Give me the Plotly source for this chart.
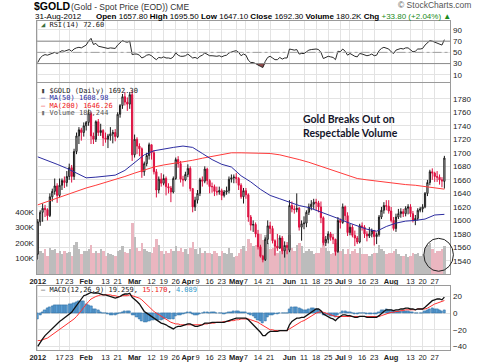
import plotly.graph_objects as go
import pandas as pd

W, H = 480, 363
def fx(p): return p / W
def fy(p): return 1 - p / H

# ---------------- data ----------------
holidays = ["2012-01-16", "2012-02-20", "2012-04-06", "2012-05-28", "2012-07-04"]
dates = [d.strftime("%Y-%m-%d") for d in pd.bdate_range("2012-01-03", "2012-08-31")
         if d.strftime("%Y-%m-%d") not in holidays]

opens = [1550,1598,1612,1618,1616,1607,1635,1643,1651,1637,1652,1659,1656,1665,1678,1665,1702,1725,1734,1730,
         1740,1745,1758,1725,1720,1746,1730,1733,1722,1720,1725,1728,1730,1724,1757,1770,1783,1775,1772,1786,
         1697,1720,1710,1706,1672,1684,1696,1712,1700,1672,1645,1661,1655,1662,1650,1648,1642,1662,1690,1684,1661,1660,
         1668,1677,1647,1620,1630,1640,1660,1658,1676,1659,1650,1650,1643,1642,1644,1637,1642,1644,1661,1663,
         1664,1662,1652,1635,1644,1638,1605,1593,1594,1580,1561,1547,1542,1572,1592,1588,1570,1562,1559,1574,1555,1563,
         1556,1622,1617,1616,1618,1590,1595,1596,1612,1620,1624,1627,1626,1620,1604,1567,1572,1580,1575,1572,1554,
         1600,1597,1620,1607,1582,1590,1578,1574,1568,1592,1590,1580,1577,1580,1585,1576,1579,1605,1615,1622,1621,
         1614,1600,1588,1605,1610,1613,1610,1618,1620,1610,1600,1603,1615,1617,1620,1640,1656,1672,1670,1665,1664,1660,1657.8]
highs = [1602,1615,1625,1623,1618,1640,1647,1662,1655,1662,1662,1665,1673,1684,1682,1706,1730,1738,1737,1745,
         1747,1764,1761,1730,1748,1750,1743,1735,1730,1728,1738,1734,1735,1760,1772,1787,1790,1782,1790,1792,
         1727,1723,1714,1708,1687,1700,1715,1712,1704,1676,1665,1670,1668,1665,1655,1651,1665,1693,1695,1688,1666,1672,
         1683,1680,1648,1635,1645,1663,1665,1680,1678,1661,1656,1653,1650,1650,1647,1645,1650,1665,1668,1668,
         1670,1664,1655,1648,1648,1640,1608,1600,1597,1586,1564,1549,1575,1600,1598,1592,1572,1580,1578,1577,1569,1568,
         1630,1628,1622,1640,1620,1600,1606,1615,1625,1630,1632,1632,1629,1628,1606,1577,1584,1583,1580,1573,1605,
         1603,1625,1622,1612,1595,1594,1585,1577,1595,1597,1593,1584,1590,1588,1586,1582,1608,1620,1627,1630,1630,
         1620,1605,1610,1617,1618,1617,1621,1624,1624,1614,1608,1618,1620,1624,1642,1660,1675,1677,1672,1673,1668,1664,1695.5]
lows = [1542,1592,1598,1605,1600,1605,1628,1638,1626,1634,1645,1648,1650,1660,1656,1660,1698,1713,1718,1724,
        1733,1740,1713,1713,1716,1725,1725,1710,1715,1707,1718,1714,1717,1722,1752,1765,1770,1762,1765,1688,
        1693,1698,1695,1663,1666,1680,1690,1690,1668,1634,1640,1650,1652,1637,1640,1627,1640,1660,1678,1656,1650,1658,
        1664,1643,1612,1614,1625,1636,1650,1655,1653,1640,1641,1636,1637,1638,1630,1634,1638,1640,1656,1655,
        1655,1645,1632,1625,1632,1598,1585,1583,1575,1557,1545,1538,1540,1565,1580,1566,1548,1555,1558,1550,1545,1550,
        1553,1612,1610,1612,1585,1570,1587,1590,1608,1615,1617,1615,1612,1596,1563,1562,1566,1570,1565,1548,1552,
        1588,1595,1600,1577,1578,1575,1562,1565,1566,1585,1574,1569,1574,1575,1563,1565,1576,1602,1610,1615,1610,
        1597,1585,1583,1602,1604,1605,1606,1609,1605,1597,1593,1600,1612,1612,1618,1636,1652,1660,1657,1657,1653,1649,1647.1]
closes = [1598,1612,1618,1616,1607,1635,1643,1651,1637,1652,1659,1656,1665,1678,1665,1702,1725,1734,1730,1740,
          1745,1758,1725,1720,1746,1730,1733,1722,1720,1725,1728,1730,1724,1757,1770,1783,1775,1772,1786,1697,
          1720,1710,1706,1672,1684,1696,1712,1700,1672,1645,1661,1655,1662,1650,1648,1642,1662,1690,1684,1661,1660,1668,
          1677,1647,1620,1630,1640,1660,1658,1676,1659,1650,1650,1643,1642,1644,1637,1642,1644,1661,1663,1664,
          1662,1652,1635,1644,1638,1605,1593,1594,1580,1561,1547,1542,1572,1592,1588,1570,1562,1559,1574,1555,1563,1560,
          1622,1617,1616,1618,1590,1595,1596,1612,1620,1624,1627,1626,1620,1604,1567,1572,1580,1575,1572,1554,1600,
          1597,1620,1607,1582,1590,1578,1574,1568,1592,1590,1580,1577,1580,1585,1576,1579,1605,1615,1622,1621,1614,
          1600,1588,1605,1610,1613,1610,1618,1620,1610,1600,1603,1615,1617,1620,1640,1656,1672,1670,1665,1664,1660,1658.5,1692.3]
volume_k = [95,150,140,160,120,170,155,160,140,150,130,150,135,145,120,190,210,160,130,150,
            150,165,190,140,150,135,160,150,120,140,130,125,120,150,155,180,145,140,165,330,
            240,170,150,200,160,150,145,140,175,230,190,150,130,150,140,160,150,180,150,170,145,160,
            130,170,210,160,130,170,140,150,140,140,130,150,140,120,150,140,130,170,140,110,
            120,140,160,180,150,230,200,180,190,210,260,220,250,200,160,170,180,140,150,170,160,170,
            250,170,150,190,200,180,140,150,160,150,130,140,140,170,240,170,150,130,140,200,210,
            150,160,130,160,130,150,160,140,170,130,130,130,120,130,140,140,190,160,150,130,140,
            140,150,160,130,120,120,130,110,120,140,130,140,120,130,170,190,200,160,140,150,150,160,180.244]
# moving averages read every 4th session
ma50 = [1694,1689,1683,1677,1670,1663,1664,1665,1667,1674,1686,1697,1703,1706,1708,1710,1708,1699,1690,1683,
        1679,1666,1657,1646,1637,1632,1627,1622,1619,1614,1609,1603,1597,1592,1587,1584,1591,1596,1599,1600,
        1602,1608,1608.98]
ma200 = [1623,1628,1634,1639,1644,1648,1652,1656,1660,1665,1670,1675,1679,1682,1684,1686,1689,1692,1695,1698,
         1700,1700,1700,1700,1699,1697,1694,1690,1686,1681,1676,1671,1666,1662,1660,1658,1656,1655,1653,1652,
         1650,1648,1646.26]
rsi = [32,40,44,46,45,47,49,50,48,51,53,52,53,55,52,56,58,59,58,60,
       63,70,75,64,66,61,60,58,57,57,58,58,57,63,68,71,69,68,70,46,
       47,47,45,40,42,45,46,44,40,37,41,40,42,40,40,39,42,49,45,43,43,44,
       47,44,40,41,39,43,45,49,46,44,44,43,43,44,42,44,45,49,51,52,
       53,50,44,47,45,36,32,32,30,27,25,23,34,41,43,40,37,37,41,38,40,40,
       56,55,54,55,47,48,48,51,54,55,56,56,55,50,39,41,43,42,41,37,52,
       51,56,52,45,48,45,43,42,48,47,45,44,45,47,44,45,53,57,59,58,56,
       51,48,54,56,57,56,58,58,55,51,52,56,56,57,63,67,71,70,68,67,65,63,72.6]
macd = [-40,-35,-31,-27,-24,-21,-18,-15,-13,-10,-8,-6,-4,-1,1,5,9,13,17,21,
        22,24,25,24,24.5,24,23,22,22,21,20,19,18,19,20,22,23,23,24,19,
        17,14,11,6,2,0,-2,-4,-6,-9,-11,-12,-13,-14,-16,-18,-19,-17,-16,-16,-15,-14,
        -13,-13,-15,-16,-16,-15,-14,-12,-12,-12,-11,-11,-11,-11,-11,-11,-10,-9,-8,-7,
        -6,-6,-6,-6,-6,-8,-11,-13,-16,-19,-23,-27,-27,-24,-22,-22,-22,-22,-21,-21,-21,-21,
        -14,-10,-8,-6,-6,-5,-5,-3,-1,2,4,5,5,3,-1,-3,-4,-6,-7,-9,-6,
        -4,-2,-2,-3,-3,-4,-5,-5,-4,-4,-4,-5,-5,-5,-5,-5,-3,0,2,4,4,
        4,3,4,4,5,5,6,6,5,5,4,5,5,5,7,10,13,15,16,17,17,16,19.259]
signal = [-33,-33,-32,-31,-30,-28,-26,-24,-22,-20,-18,-16,-14,-12,-10,-7,-4,-1,3,7,
          11,14,17,19,20,21,22,22,22,22,22,21,21,20,20,21,21,21,22,21,
          20,19,18,16,13,11,8,5,2,0,-2,-4,-6,-8,-9,-11,-12,-13,-13,-14,-14,-14,
          -14,-14,-14,-14,-14,-14,-14,-13,-13,-12,-12,-12,-11,-11,-11,-10,-10,-10,-9,-9,
          -8,-8,-7,-7,-7,-7,-8,-9,-10,-11,-13,-15,-17,-19,-20,-20,-21,-21,-21,-21,-21,-21,
          -19,-17,-15,-13,-12,-10,-9,-7,-6,-4,-2,0,1,2,1,0,-1,-2,-3,-4,-4,
          -4,-4,-4,-4,-4,-4,-4,-4,-4,-4,-4,-4,-4,-4,-4,-4,-4,-3,-2,-1,0,
          1,1,2,2,3,3,4,4,4,4,4,5,5,5,5,6,8,9,11,12,13,14,15.17]

tick_dates = ["2012-01-03","2012-01-17","2012-01-23","2012-02-01","2012-02-13","2012-02-21",
              "2012-03-01","2012-03-12","2012-03-19","2012-03-26","2012-04-02","2012-04-09",
              "2012-04-16","2012-04-23","2012-05-01","2012-05-07","2012-05-14","2012-05-21",
              "2012-06-01","2012-06-11","2012-06-18","2012-06-25","2012-07-02","2012-07-09",
              "2012-07-16","2012-07-23","2012-08-01","2012-08-13","2012-08-20","2012-08-27"]
tick_text = ["<b>2012</b>","17","23","<b>Feb</b>","13","21","<b>Mar</b>","12","19","26",
             "<b>Apr</b>","9","16","23","<b>May</b>","7","14","21","<b>Jun</b>","11","18","25",
             "<b>Jul</b>","9","16","23","<b>Aug</b>","13","20","27"]
price_ticks = [1540, 1560, 1580, 1600, 1620, 1640, 1660, 1680, 1700, 1720, 1740, 1760, 1780]
rsi_ticks = [10, 30, 50, 70, 90]
macd_ticks = [-40, -20, 0, 20]
vol_ticks = [100000, 200000, 300000, 400000]
vol_tick_text = ["100K", "200K", "300K", "400K"]

n = len(dates)
for arr in (opens, highs, lows, closes, volume_k, rsi, macd, signal):
    assert len(arr) == n, (len(arr), n)

xs = list(range(n))
ma_x = xs[::4]
tickvals = [dates.index(d) for d in tick_dates]
hist = [m - s for m, s in zip(macd, signal)]
vol_colors = ["#eab6c0" if c < o else "#bcbcbc" for o, c in zip(opens, closes)]

# ---------------- figure ----------------
fig = go.Figure()
fig.add_trace(go.Bar(x=xs, y=[v * 1000 for v in volume_k], marker_color=vol_colors,
                     marker_line_width=0, width=0.8, xaxis="x2", yaxis="y2", hoverinfo="skip"))
fig.add_trace(go.Candlestick(x=xs, open=opens, high=highs, low=lows, close=closes,
                             xaxis="x2", yaxis="y4", whiskerwidth=0,
                             increasing=dict(line=dict(color="#1a1a1a", width=1), fillcolor="white"),
                             decreasing=dict(line=dict(color="#dd1040", width=1), fillcolor="#dd1040")))
fig.add_trace(go.Scatter(x=ma_x, y=ma200, mode="lines", line=dict(color="#ff3b3b", width=1),
                         xaxis="x2", yaxis="y4"))
fig.add_trace(go.Scatter(x=ma_x, y=ma50, mode="lines", line=dict(color="#2c2ca0", width=1),
                         xaxis="x2", yaxis="y4"))

# RSI
fig.add_trace(go.Scatter(x=xs, y=[30] * n, mode="lines", line=dict(width=0), xaxis="x", yaxis="y"))
fig.add_trace(go.Scatter(x=xs, y=[min(r, 30) for r in rsi], mode="lines", line=dict(width=0),
                         fill="tonexty", fillcolor="#8c4848", xaxis="x", yaxis="y"))
fig.add_trace(go.Scatter(x=xs, y=rsi, mode="lines", line=dict(color="#2a2a2a", width=1),
                         xaxis="x", yaxis="y"))

# MACD
fig.add_trace(go.Bar(x=xs, y=hist, marker_color="#5b9fd6", marker_line=dict(color="#2d6ea3", width=0.6),
                     width=0.9, xaxis="x3", yaxis="y3"))
fig.add_trace(go.Scatter(x=xs, y=signal, mode="lines", line=dict(color="#ff3030", width=1),
                         xaxis="x3", yaxis="y3"))
fig.add_trace(go.Scatter(x=xs, y=macd, mode="lines", line=dict(color="#111111", width=1.3),
                         xaxis="x3", yaxis="y3"))

tickfont = dict(family="Liberation Sans, Arial", size=8, color="#222")
xtickfont = dict(family="Liberation Sans, Arial", size=7.5, color="#222")
xbase = dict(domain=[fx(30), fx(450)], range=[-0.5, n + 1.5], tickvals=tickvals, ticktext=tick_text,
             tickangle=0, showgrid=True, gridcolor="#e3e3e3", gridwidth=1, zeroline=False, showline=True,
             linecolor="#9a9a9a", mirror=True, ticks="", tickfont=xtickfont, rangeslider=dict(visible=False),
             fixedrange=True)
ybase = dict(showgrid=True, gridcolor="#e3e3e3", zeroline=False, showline=True, linecolor="#9a9a9a",
             mirror=True, ticks="", tickfont=tickfont, side="right", fixedrange=True)

fig.update_layout(
    width=W, height=H, margin=dict(l=0, r=0, t=0, b=0),
    paper_bgcolor="white", plot_bgcolor="white", showlegend=False, bargap=0,
    xaxis=dict(xbase, anchor="y", showticklabels=False),
    xaxis2=dict(xbase, anchor="y2", showticklabels=True),
    xaxis3=dict(xbase, anchor="y3", showticklabels=True),
    yaxis=dict(ybase, domain=[fy(82), fy(21)], range=[-2.4, 106], tickvals=rsi_ticks),
    yaxis2=dict(ybase, domain=[fy(275), fy(83)], range=[0, 1225000], side="left", showgrid=False,
                tickvals=vol_ticks, ticktext=vol_tick_text),
    yaxis4=dict(ybase, overlaying="y2", anchor="x2", range=[1520.4, 1803.6], tickvals=price_ticks),
    yaxis3=dict(ybase, domain=[fy(351), fy(287)], range=[-44.4, 32.4], tickvals=macd_ticks),
)

# RSI reference lines
for lvl, dash, col in ((70, "solid", "#8a8a8a"), (30, "solid", "#8a8a8a"), (50, "dashdot", "#a0a0a0")):
    fig.add_shape(type="line", xref="x domain", yref="y", x0=0, x1=1, y0=lvl, y1=lvl,
                  line=dict(color=col, width=1, dash=dash))

# breakout circle
fig.add_shape(type="circle", xref="paper", yref="paper", x0=fx(423), x1=fx(453), y0=fy(272), y1=fy(239),
              line=dict(color="#222", width=1))

def ann(x, y, text, size=8, color="#000", family="Liberation Sans, Arial", xanchor="left"):
    fig.add_annotation(x=fx(x), y=fy(y), xref="paper", yref="paper", text=text, showarrow=False,
                       xanchor=xanchor, yanchor="middle", font=dict(size=size, color=color, family=family),
                       align="left")

# header
ann(25, 6.5, "<b>$GOLD</b>", size=10.5)
ann(63, 7, "(Gold - Spot Price (EOD)) CME", size=8.5, color="#333")
ann(26, 16.5, "31-Aug-2012", size=8)
ann(453, 16.5, "<b>Open</b> 1657.80 <b>High</b> 1695.50 <b>Low</b> 1647.10 <b>Close</b> 1692.30 "
               "<b>Volume</b> 180.2K <b>Chg</b> <span style='color:#1a8a1a'>+33.80 (+2.04%) ▲</span>",
    size=8, xanchor="right")
ann(473, 5.5, "© StockCharts.com", size=8.5, color="#555", xanchor="right")

mono = "DejaVu Sans Mono, monospace"
ann(32, 25, "<span style='color:#3b6e3b'>◢</span> RSI(14) 72.60", size=7, family=mono, color="#222")
ann(32, 91, "<span style='color:#444'>▮</span> $GOLD (Daily) 1692.30", size=7, family=mono, color="#222")
ann(32, 98.5, "— MA(50) 1608.98", size=7, family=mono, color="#2c2ca0")
ann(32, 106, "— MA(200) 1646.26", size=7, family=mono, color="#ee2020")
ann(32, 113.5, "<span style='color:#777'>▮</span> Volume 180,244", size=7, family=mono, color="#555")
ann(32, 290.5, "— MACD(12,26,9) 19.259, <span style='color:#ee2020'>15.170</span>, "
               "<span style='color:#3399cc'>4.089</span>", size=7, family=mono, color="#222")

ann(298, 126.5, "<b>Gold Breaks Out on<br>Respectable Volume</b>", size=10.5, color="#15152a",
    family="Lato, Open Sans, sans-serif")

fig.write_html("out.html", config={"displayModeBar": False},
               post_script="document.body.style.margin='0';document.body.style.overflow='hidden';")
